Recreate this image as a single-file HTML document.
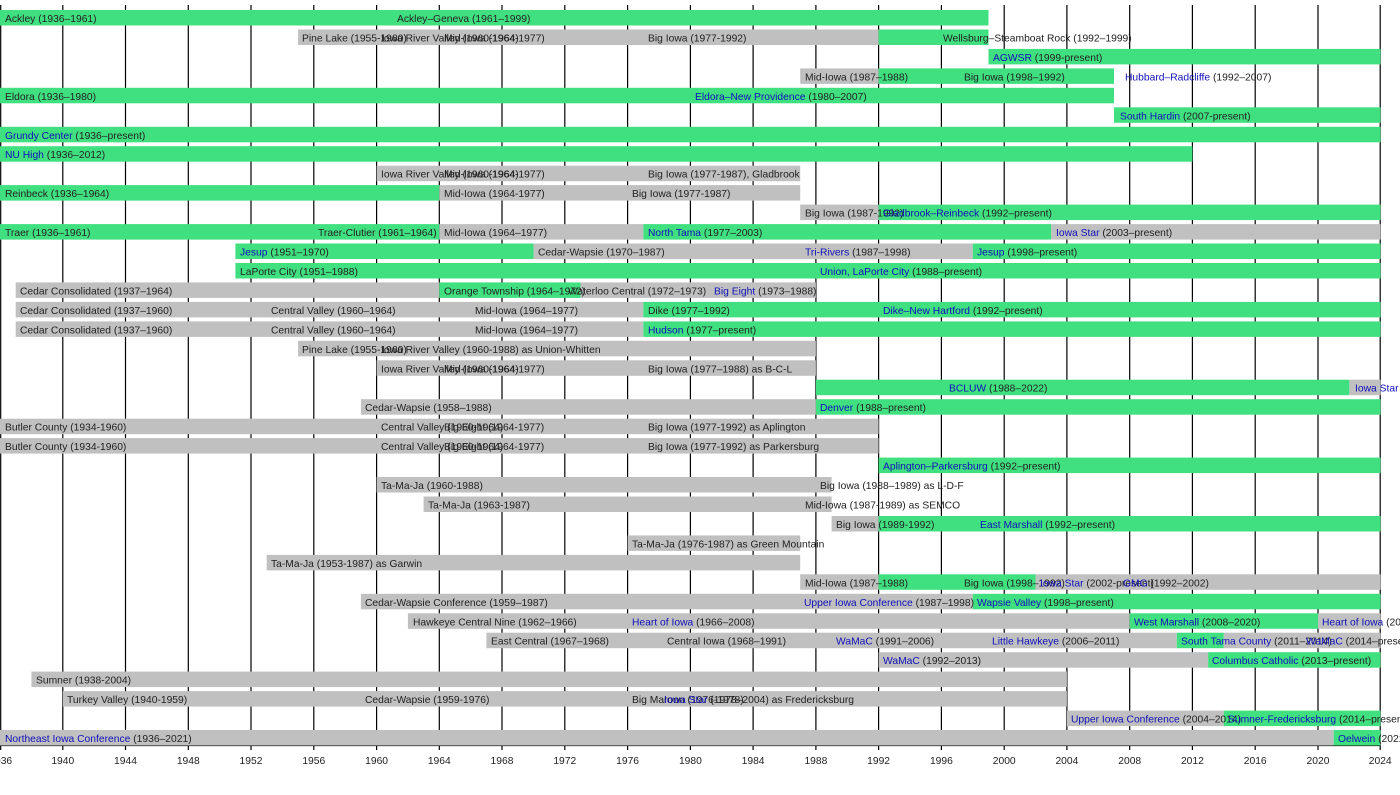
<!DOCTYPE html>
<html><head><meta charset="utf-8"><style>
html,body{margin:0;padding:0;background:#fff;}
svg{display:block;font-family:"Liberation Sans",Arial,sans-serif;font-size:10.3px;}
.g{fill:#40e080}.s{fill:#c0c0c0}
text{fill:#222}
.b{fill:#1010b8}
.grid line{stroke:#000;stroke-width:1.2}
</style></head><body>
<svg width="1400" height="795" viewBox="0 0 1400 795" xmlns="http://www.w3.org/2000/svg">
<g class="grid">
<line x1="0.7" y1="5" x2="0.7" y2="750"/>
<line x1="62.8" y1="5" x2="62.8" y2="750"/>
<line x1="125.5" y1="5" x2="125.5" y2="750"/>
<line x1="188.3" y1="5" x2="188.3" y2="750"/>
<line x1="251" y1="5" x2="251" y2="750"/>
<line x1="313.8" y1="5" x2="313.8" y2="750"/>
<line x1="376.6" y1="5" x2="376.6" y2="750"/>
<line x1="439.3" y1="5" x2="439.3" y2="750"/>
<line x1="502" y1="5" x2="502" y2="750"/>
<line x1="564.8" y1="5" x2="564.8" y2="750"/>
<line x1="627.6" y1="5" x2="627.6" y2="750"/>
<line x1="690.4" y1="5" x2="690.4" y2="750"/>
<line x1="753.1" y1="5" x2="753.1" y2="750"/>
<line x1="815.9" y1="5" x2="815.9" y2="750"/>
<line x1="878.6" y1="5" x2="878.6" y2="750"/>
<line x1="941.4" y1="5" x2="941.4" y2="750"/>
<line x1="1004.2" y1="5" x2="1004.2" y2="750"/>
<line x1="1066.9" y1="5" x2="1066.9" y2="750"/>
<line x1="1129.7" y1="5" x2="1129.7" y2="750"/>
<line x1="1192.4" y1="5" x2="1192.4" y2="750"/>
<line x1="1255.2" y1="5" x2="1255.2" y2="750"/>
<line x1="1318" y1="5" x2="1318" y2="750"/>
<line x1="1380.2" y1="5" x2="1380.2" y2="750"/>
<line x1="0" y1="745.5" x2="1380.5" y2="745.5"/>
</g>
<g>
<rect class="g" x="0" y="10" width="988.5" height="15.5"/>
<rect class="s" x="298.1" y="29.5" width="580.5" height="15.5"/>
<rect class="g" x="878.6" y="29.5" width="109.9" height="15.5"/>
<rect class="g" x="988.5" y="48.9" width="392" height="15.5"/>
<rect class="s" x="800.2" y="68.4" width="78.4" height="15.5"/>
<rect class="g" x="878.6" y="68.4" width="235.4" height="15.5"/>
<rect class="g" x="0" y="87.8" width="1114" height="15.5"/>
<rect class="g" x="1114" y="107.3" width="266.5" height="15.5"/>
<rect class="g" x="0" y="126.8" width="1380.5" height="15.5"/>
<rect class="g" x="0" y="146.2" width="1192.4" height="15.5"/>
<rect class="s" x="376.6" y="165.7" width="423.6" height="15.5"/>
<rect class="g" x="0" y="185.1" width="439.3" height="15.5"/>
<rect class="s" x="439.3" y="185.1" width="360.9" height="15.5"/>
<rect class="s" x="800.2" y="204.6" width="78.4" height="15.5"/>
<rect class="g" x="878.6" y="204.6" width="501.9" height="15.5"/>
<rect class="g" x="0" y="224.1" width="439.3" height="15.5"/>
<rect class="s" x="439.3" y="224.1" width="204" height="15.5"/>
<rect class="g" x="643.3" y="224.1" width="407.9" height="15.5"/>
<rect class="s" x="1051.2" y="224.1" width="329.3" height="15.5"/>
<rect class="g" x="235.4" y="243.5" width="298.1" height="15.5"/>
<rect class="s" x="533.5" y="243.5" width="439.3" height="15.5"/>
<rect class="g" x="972.8" y="243.5" width="407.7" height="15.5"/>
<rect class="g" x="235.4" y="263" width="1145.1" height="15.5"/>
<rect class="s" x="15.7" y="282.4" width="423.6" height="15.5"/>
<rect class="g" x="439.3" y="282.4" width="141.2" height="15.5"/>
<rect class="s" x="580.5" y="282.4" width="235.4" height="15.5"/>
<rect class="s" x="15.7" y="301.9" width="627.6" height="15.5"/>
<rect class="g" x="643.3" y="301.9" width="737.2" height="15.5"/>
<rect class="s" x="15.7" y="321.4" width="627.6" height="15.5"/>
<rect class="g" x="643.3" y="321.4" width="737.2" height="15.5"/>
<rect class="s" x="298.1" y="340.8" width="517.8" height="15.5"/>
<rect class="s" x="376.6" y="360.3" width="439.3" height="15.5"/>
<rect class="g" x="815.9" y="379.7" width="533.5" height="15.5"/>
<rect class="s" x="1349.4" y="379.7" width="31.1" height="15.5"/>
<rect class="s" x="360.9" y="399.2" width="455" height="15.5"/>
<rect class="g" x="815.9" y="399.2" width="564.6" height="15.5"/>
<rect class="s" x="0" y="418.7" width="878.6" height="15.5"/>
<rect class="s" x="0" y="438.1" width="878.6" height="15.5"/>
<rect class="g" x="878.6" y="457.6" width="501.9" height="15.5"/>
<rect class="s" x="376.6" y="477" width="455" height="15.5"/>
<rect class="s" x="423.6" y="496.5" width="408" height="15.5"/>
<rect class="s" x="831.6" y="516" width="47" height="15.5"/>
<rect class="g" x="878.6" y="516" width="501.9" height="15.5"/>
<rect class="s" x="627.6" y="535.4" width="172.6" height="15.5"/>
<rect class="s" x="266.7" y="554.9" width="533.5" height="15.5"/>
<rect class="s" x="800.2" y="574.3" width="78.4" height="15.5"/>
<rect class="g" x="878.6" y="574.3" width="156.9" height="15.5"/>
<rect class="s" x="1035.5" y="574.3" width="345" height="15.5"/>
<rect class="s" x="360.9" y="593.8" width="611.9" height="15.5"/>
<rect class="g" x="972.8" y="593.8" width="407.7" height="15.5"/>
<rect class="s" x="407.9" y="613.3" width="721.8" height="15.5"/>
<rect class="g" x="1129.7" y="613.3" width="188.3" height="15.5"/>
<rect class="s" x="1318" y="613.3" width="62.5" height="15.5"/>
<rect class="s" x="486.4" y="632.7" width="690.4" height="15.5"/>
<rect class="g" x="1176.8" y="632.7" width="47" height="15.5"/>
<rect class="s" x="1223.8" y="632.7" width="156.7" height="15.5"/>
<rect class="s" x="878.6" y="652.2" width="329.5" height="15.5"/>
<rect class="g" x="1208.1" y="652.2" width="172.4" height="15.5"/>
<rect class="s" x="31.4" y="671.6" width="1035.5" height="15.5"/>
<rect class="s" x="62.8" y="691.1" width="1004.1" height="15.5"/>
<rect class="s" x="1066.9" y="710.6" width="156.9" height="15.5"/>
<rect class="g" x="1223.8" y="710.6" width="156.7" height="15.5"/>
<rect class="s" x="0" y="730" width="1333.7" height="15.5"/>
<rect class="g" x="1333.7" y="730" width="46.8" height="15.5"/>
</g>
<g>
<text x="5" y="22">Ackley (1936–1961)</text>
<text x="397" y="22">Ackley–Geneva (1961–1999)</text>
<text x="302" y="41.5">Pine Lake (1955-1960)</text>
<text x="381" y="41.5">Iowa River Valley (1960-1964)</text>
<text x="444" y="41.5">Mid-Iowa (1964-1977)</text>
<text x="648" y="41.5">Big Iowa (1977-1992)</text>
<text x="943" y="41.5">Wellsburg–Steamboat Rock (1992–1999)</text>
<text x="993" y="61"><tspan class="b">AGWSR</tspan> (1999-present)</text>
<text x="805" y="80.4">Mid-Iowa (1987–1988)</text>
<text x="964" y="80.4">Big Iowa (1998–1992)</text>
<text x="1125" y="80.4"><tspan class="b">Hubbard–Radcliffe</tspan> (1992–2007)</text>
<text x="5" y="99.8">Eldora (1936–1980)</text>
<text x="695" y="99.8"><tspan class="b">Eldora–New Providence</tspan> (1980–2007)</text>
<text x="1120" y="119.3"><tspan class="b">South Hardin</tspan> (2007-present)</text>
<text x="5" y="138.8"><tspan class="b">Grundy Center</tspan> (1936–present)</text>
<text x="5" y="158.2"><tspan class="b">NU High</tspan> (1936–2012)</text>
<text x="381" y="177.7">Iowa River Valley (1960-1964)</text>
<text x="444" y="177.7">Mid-Iowa (1964-1977)</text>
<text x="648" y="177.7">Big Iowa (1977-1987), Gladbrook</text>
<text x="5" y="197.1">Reinbeck (1936–1964)</text>
<text x="444" y="197.1">Mid-Iowa (1964-1977)</text>
<text x="632" y="197.1">Big Iowa (1977-1987)</text>
<text x="805" y="216.6">Big Iowa (1987-1992)</text>
<text x="883" y="216.6"><tspan class="b">Gladbrook–Reinbeck</tspan> (1992–present)</text>
<text x="5" y="236.1">Traer (1936–1961)</text>
<text x="318" y="236.1">Traer-Clutier (1961–1964)</text>
<text x="444" y="236.1">Mid-Iowa (1964–1977)</text>
<text x="648" y="236.1"><tspan class="b">North Tama</tspan> (1977–2003)</text>
<text x="1056" y="236.1"><tspan class="b">Iowa Star</tspan> (2003–present)</text>
<text x="240" y="255.5"><tspan class="b">Jesup</tspan> (1951–1970)</text>
<text x="538" y="255.5">Cedar-Wapsie (1970–1987)</text>
<text x="805" y="255.5"><tspan class="b">Tri-Rivers</tspan> (1987–1998)</text>
<text x="977" y="255.5"><tspan class="b">Jesup</tspan> (1998–present)</text>
<text x="240" y="275">LaPorte City (1951–1988)</text>
<text x="820" y="275"><tspan class="b">Union, LaPorte City</tspan> (1988–present)</text>
<text x="20" y="294.4">Cedar Consolidated (1937–1964)</text>
<text x="444" y="294.4">Orange Township (1964–1972)</text>
<text x="568" y="294.4">Waterloo Central (1972–1973)</text>
<text x="714" y="294.4"><tspan class="b">Big Eight</tspan> (1973–1988)</text>
<text x="20" y="313.9">Cedar Consolidated (1937–1960)</text>
<text x="271" y="313.9">Central Valley (1960–1964)</text>
<text x="475" y="313.9">Mid-Iowa (1964–1977)</text>
<text x="648" y="313.9">Dike (1977–1992)</text>
<text x="883" y="313.9"><tspan class="b">Dike–New Hartford</tspan> (1992–present)</text>
<text x="20" y="333.4">Cedar Consolidated (1937–1960)</text>
<text x="271" y="333.4">Central Valley (1960–1964)</text>
<text x="475" y="333.4">Mid-Iowa (1964–1977)</text>
<text x="648" y="333.4"><tspan class="b">Hudson</tspan> (1977–present)</text>
<text x="302" y="352.8">Pine Lake (1955-1960)</text>
<text x="381" y="352.8">Iowa River Valley (1960-1988) as Union-Whitten</text>
<text x="381" y="372.3">Iowa River Valley (1960-1964)</text>
<text x="444" y="372.3">Mid-Iowa (1964-1977)</text>
<text x="648" y="372.3">Big Iowa (1977–1988) as B-C-L</text>
<text x="949" y="391.7"><tspan class="b">BCLUW</tspan> (1988–2022)</text>
<text x="1355" y="391.7"><tspan class="b">Iowa Star</tspan></text>
<text x="365" y="411.2">Cedar-Wapsie (1958–1988)</text>
<text x="820" y="411.2"><tspan class="b">Denver</tspan> (1988–present)</text>
<text x="5" y="430.7">Butler County (1934-1960)</text>
<text x="381" y="430.7">Central Valley (1960-1964)</text>
<text x="444" y="430.7">Big Eight (1964-1977)</text>
<text x="648" y="430.7">Big Iowa (1977-1992) as Aplington</text>
<text x="5" y="450.1">Butler County (1934-1960)</text>
<text x="381" y="450.1">Central Valley (1960-1964)</text>
<text x="444" y="450.1">Big Eight (1964-1977)</text>
<text x="648" y="450.1">Big Iowa (1977-1992) as Parkersburg</text>
<text x="883" y="469.6"><tspan class="b">Aplington–Parkersburg</tspan> (1992–present)</text>
<text x="381" y="489">Ta-Ma-Ja (1960-1988)</text>
<text x="820" y="489">Big Iowa (1988–1989) as L-D-F</text>
<text x="428" y="508.5">Ta-Ma-Ja (1963-1987)</text>
<text x="805" y="508.5">Mid-Iowa (1987-1989) as SEMCO</text>
<text x="836" y="528">Big Iowa (1989-1992)</text>
<text x="980" y="528"><tspan class="b">East Marshall</tspan> (1992–present)</text>
<text x="632" y="547.4">Ta-Ma-Ja (1976-1987) as Green Mountain</text>
<text x="271" y="566.9">Ta-Ma-Ja (1953-1987) as Garwin</text>
<text x="805" y="586.3">Mid-Iowa (1987–1988)</text>
<text x="964" y="586.3">Big Iowa (1998–1992)</text>
<text x="1040" y="586.3"><tspan class="b">Iowa Star</tspan> (2002-present)</text>
<text x="1123" y="586.3"><tspan class="b">GMG</tspan> (1992–2002)</text>
<text x="365" y="605.8">Cedar-Wapsie Conference (1959–1987)</text>
<text x="804" y="605.8"><tspan class="b">Upper Iowa Conference</tspan> (1987–1998)</text>
<text x="977" y="605.8"><tspan class="b">Wapsie Valley</tspan> (1998–present)</text>
<text x="413" y="625.3">Hawkeye Central Nine (1962–1966)</text>
<text x="632" y="625.3"><tspan class="b">Heart of Iowa</tspan> (1966–2008)</text>
<text x="1134" y="625.3"><tspan class="b">West Marshall</tspan> (2008–2020)</text>
<text x="1322" y="625.3"><tspan class="b">Heart of Iowa</tspan> (2020–present)</text>
<text x="491" y="644.7">East Central (1967–1968)</text>
<text x="667" y="644.7">Central Iowa (1968–1991)</text>
<text x="836" y="644.7"><tspan class="b">WaMaC</tspan> (1991–2006)</text>
<text x="992" y="644.7"><tspan class="b">Little Hawkeye</tspan> (2006–2011)</text>
<text x="1181" y="644.7"><tspan class="b">South Tama County</tspan> (2011–2014)</text>
<text x="1306" y="644.7"><tspan class="b">WaMaC</tspan> (2014–present)</text>
<text x="883" y="664.2"><tspan class="b">WaMaC</tspan> (1992–2013)</text>
<text x="1212" y="664.2"><tspan class="b">Columbus Catholic</tspan> (2013–present)</text>
<text x="36" y="683.6">Sumner (1938-2004)</text>
<text x="67" y="703.1">Turkey Valley (1940-1959)</text>
<text x="365" y="703.1">Cedar-Wapsie (1959-1976)</text>
<text x="632" y="703.1">Big Maroon (1976-1978)</text>
<text x="664" y="703.1"><tspan class="b">Iowa Star</tspan> (1978–2004) as Fredericksburg</text>
<text x="1071" y="722.6"><tspan class="b">Upper Iowa Conference</tspan> (2004–2014)</text>
<text x="1228" y="722.6"><tspan class="b">Sumner-Fredericksburg</tspan> (2014–present)</text>
<text x="5" y="742"><tspan class="b">Northeast Iowa Conference</tspan> (1936–2021)</text>
<text x="1338" y="742"><tspan class="b">Oelwein</tspan> (2021–present)</text>
</g>
<g text-anchor="middle">
<text x="0.7" y="764">1936</text>
<text x="62.8" y="764">1940</text>
<text x="125.5" y="764">1944</text>
<text x="188.3" y="764">1948</text>
<text x="251" y="764">1952</text>
<text x="313.8" y="764">1956</text>
<text x="376.6" y="764">1960</text>
<text x="439.3" y="764">1964</text>
<text x="502" y="764">1968</text>
<text x="564.8" y="764">1972</text>
<text x="627.6" y="764">1976</text>
<text x="690.4" y="764">1980</text>
<text x="753.1" y="764">1984</text>
<text x="815.9" y="764">1988</text>
<text x="878.6" y="764">1992</text>
<text x="941.4" y="764">1996</text>
<text x="1004.2" y="764">2000</text>
<text x="1066.9" y="764">2004</text>
<text x="1129.7" y="764">2008</text>
<text x="1192.4" y="764">2012</text>
<text x="1255.2" y="764">2016</text>
<text x="1318" y="764">2020</text>
<text x="1380.2" y="764">2024</text>
</g>
</svg>
</body></html>
